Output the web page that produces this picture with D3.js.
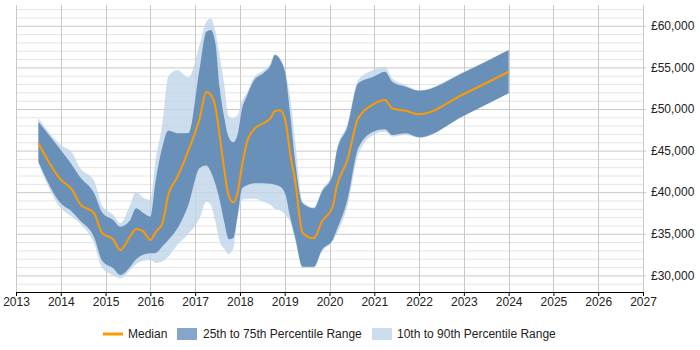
<!DOCTYPE html>
<html>
<head>
<meta charset="utf-8">
<script src="https://cdn.jsdelivr.net/npm/d3@7"></script>
<style>
  body { margin: 0; background: #fff; }
  svg { display: block; font-family: Arial, "Liberation Sans", sans-serif; }
</style>
</head>
<body>
<script>
// Sample dates as decimal years.
var dates = [2013.5, 2014.0, 2014.25, 2014.42, 2014.75, 2014.92, 2015.17, 2015.33, 2015.55, 2015.68,
  2015.85, 2016.0, 2016.12, 2016.27, 2016.4, 2016.6, 2016.85, 2017.1, 2017.25, 2017.35,
  2017.45, 2017.55, 2017.65, 2017.75, 2017.85, 2017.95, 2018.05, 2018.15, 2018.32, 2018.52,
  2018.68, 2018.78, 2018.9, 2019.02, 2019.12, 2019.23, 2019.4, 2019.65, 2019.83, 2020.07,
  2020.16, 2020.4, 2020.64, 2020.98, 2021.24, 2021.4, 2021.7, 2022.0, 2023.0, 2024.0];

var median = [45875, 41500, 40300, 38660, 37400, 35100, 34330, 33050, 34700, 35570,
  35250, 34250, 35200, 36260, 39660, 41800, 45000, 48850, 52080, 51700,
  50300, 46740, 42710, 39560, 38800, 40000, 43270, 45870, 47590, 48280,
  48880, 49760, 49840, 48470, 44670, 41460, 35100, 34450, 36450, 38250,
  40660, 43870, 48880, 50560, 51080, 50080, 49790, 49360, 51800, 54480];

var p25 = [43670, 38660, 37660, 36660, 34500, 31800, 30850, 30040, 31040, 31900,
  32500, 32650, 32700, 33500, 34250, 35600, 38500, 42900, 43200, 42460,
  41000, 39000, 36400, 34350, 34500, 37300, 40460, 40800, 41070, 41070,
  41000, 40900, 40660, 39660, 37050, 34650, 31040, 31040, 33050, 34250,
  35450, 39060, 45270, 47270, 47560, 46870, 47070, 46600, 49200, 51880];

var p75 = [48470, 45070, 43270, 41870, 39800, 37600, 36660, 35850, 36660, 38060,
  37460, 37060, 41460, 45470, 47400, 47070, 47100, 54890, 59290, 59490,
  58000, 52480, 48970, 46600, 46000, 47000, 50080, 51500, 53480, 54300,
  55200, 56490, 55890, 54090, 49480, 43870, 38660, 38060, 40060, 42060,
  44860, 47870, 53080, 53880, 54490, 53280, 52680, 52200, 54400, 57090];

var p10 = [43450, 38060, 37050, 36250, 33700, 30900, 30040, 29650, 30640, 31350,
  31750, 31850, 31500, 31700, 32250, 33650, 35000, 36860, 38860, 38460,
  36500, 34050, 33200, 32550, 33250, 36900, 39100, 39200, 39200, 38860,
  38500, 38000, 37800, 37260, 36500, 34300, 30900, 30900, 32850, 34100,
  35000, 38300, 44470, 46870, 47270, 46670, 46870, 46550, 49200, 51880];

var p90 = [48880, 45670, 44760, 43000, 41300, 38400, 37300, 36300, 38500, 40060,
  39300, 39100, 44000, 48300, 53880, 54690, 53800, 57690, 60500, 60880,
  59400, 56300, 52900, 49200, 48880, 49300, 51000, 51880, 53880, 54600,
  55500, 56570, 56090, 54300, 51500, 46300, 38860, 38200, 40300, 42300,
  45100, 48200, 53480, 54690, 55080, 53690, 52880, 52250, 54500, 57090];

var yearTicks = [2013, 2014, 2015, 2016, 2017, 2018, 2019, 2020, 2021, 2022, 2023, 2024, 2025, 2026, 2027];
var valueTicks = [30000, 35000, 40000, 45000, 50000, 55000, 60000];
var legendLabels = ["Median", "25th to 75th Percentile Range", "10th to 90th Percentile Range"];

var w = 700;
var h = 350;

var margin = { left: 16, right: 57, top: 5, bottom: 58 };
var width = w - margin.left - margin.right;
var height = h - margin.top - margin.bottom;

var svg = d3.select("body").append("svg")
    .attr("width", w)
    .attr("height", h);

var x = d3.scaleLinear().domain([2013, 2027]).range([0, width]);
var y = d3.scaleLinear().domain([28000, 62500]).range([height, 0]);

var g = svg.append("g")
    .attr("transform", "translate(" + margin.left + "," + margin.top + ")");

var data = dates.map(function(d, i) {
    return { t: d, med: median[i], lo: p25[i], hi: p75[i], lo10: p10[i], hi90: p90[i] };
});

// Minor horizontal grid every 1000.
g.append("g").selectAll("line")
    .data(d3.range(29000, 62500, 1000).filter(v => v % 5000 != 0))
    .enter().append("line")
    .attr("x1", 0).attr("x2", width)
    .attr("y1", d => y(d) + 0.5).attr("y2", d => y(d) + 0.5)
    .attr("stroke", "#e4e4e4");

// Major horizontal grid.
g.append("g").selectAll("line")
    .data(valueTicks)
    .enter().append("line")
    .attr("x1", 0).attr("x2", width + 3)
    .attr("y1", d => y(d) + 0.5).attr("y2", d => y(d) + 0.5)
    .attr("stroke", "#c8c8c8");

// Vertical grid per year.
g.append("g").selectAll("line")
    .data(yearTicks)
    .enter().append("line")
    .attr("x1", d => Math.round(x(d)) + 0.5).attr("x2", d => Math.round(x(d)) + 0.5)
    .attr("y1", 0).attr("y2", height)
    .attr("stroke", "#c8c8c8");

var curve = d3.curveMonotoneX;

var area90 = d3.area()
    .x(d => x(d.t))
    .y0(d => y(d.lo10))
    .y1(d => y(d.hi90))
    .curve(curve);

var area75 = d3.area()
    .x(d => x(d.t))
    .y0(d => y(d.lo))
    .y1(d => y(d.hi))
    .curve(curve);

var line = d3.line()
    .x(d => x(d.t))
    .y(d => y(d.med))
    .curve(curve);

g.append("path").datum(data)
    .attr("d", area90)
    .attr("fill", "rgb(191,214,234)")
    .attr("fill-opacity", 0.8);

g.append("path").datum(data)
    .attr("d", area75)
    .attr("fill", "rgb(87,130,175)")
    .attr("fill-opacity", 0.85);

g.append("path").datum(data)
    .attr("d", line)
    .attr("fill", "none")
    .attr("stroke", "#ff9900")
    .attr("stroke-width", 2);

// x axis
var xAxis = g.append("g")
    .attr("transform", "translate(0," + height + ")")
    .call(d3.axisBottom(x).tickValues(yearTicks).tickFormat(d3.format("d")).tickSize(4).tickSizeOuter(0));
xAxis.select(".domain").attr("stroke", "#000");
xAxis.selectAll(".tick line").attr("stroke", "#000");
xAxis.selectAll("text")
    .attr("fill", "#222")
    .style("font-size", "12px")
    .attr("y", 5)
    .attr("dy", "0.71em");

// y labels on the right
g.append("g").selectAll("text")
    .data(valueTicks)
    .enter().append("text")
    .attr("x", width + 8)
    .attr("y", d => y(d))
    .attr("dy", "0.35em")
    .attr("fill", "#222")
    .style("font-size", "12px")
    .text(d => "£" + d3.format(",")(d));

// Legend
var legend = svg.append("g").attr("transform", "translate(0,334)");

legend.append("line")
    .attr("x1", 103).attr("x2", 123)
    .attr("y1", 0).attr("y2", 0)
    .attr("stroke", "#ff9900")
    .attr("stroke-width", 3);
legend.append("text").attr("x", 128).attr("y", 0).attr("dy", "0.35em")
    .style("font-size", "12px").attr("fill", "#222").text(legendLabels[0]);

legend.append("rect")
    .attr("x", 177).attr("y", -6).attr("width", 20).attr("height", 12)
    .attr("fill", "#87a5c6");
legend.append("text").attr("x", 203).attr("y", 0).attr("dy", "0.35em")
    .style("font-size", "12px").attr("fill", "#222").text(legendLabels[1]);

legend.append("rect")
    .attr("x", 372).attr("y", -6).attr("width", 20).attr("height", 12)
    .attr("fill", "#ccdeee");
legend.append("text").attr("x", 397).attr("y", 0).attr("dy", "0.35em")
    .style("font-size", "12px").attr("fill", "#222").text(legendLabels[2]);
</script>
</body>
</html>
